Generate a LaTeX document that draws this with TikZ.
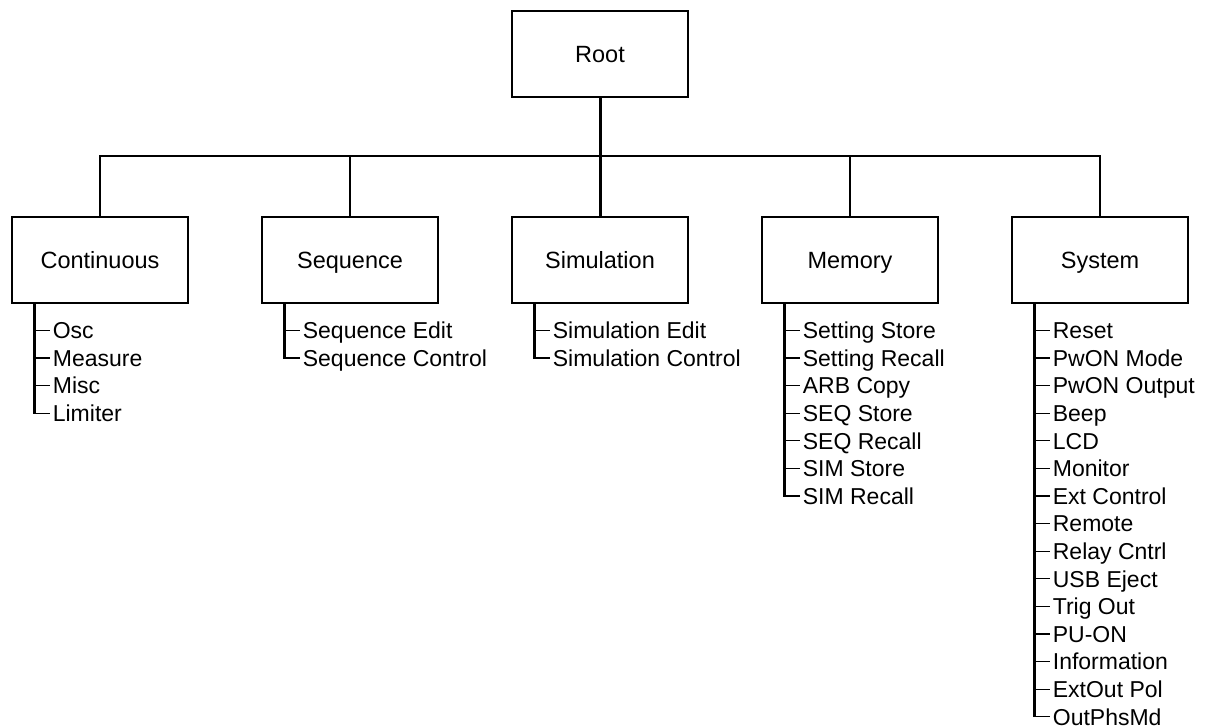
\documentclass[tikz,border=0pt]{standalone}
\usepackage{fontspec}
\setmainfont{Liberation Sans}
\usetikzlibrary{positioning, calc}

\begin{document}
\begin{tikzpicture}[x=1pt, y=-1pt,
  menu/.style={draw, line width=2.7pt, minimum width=176pt, minimum height=86pt,
    inner sep=0pt, text height=17pt, text depth=0pt,
    font=\fontsize{23.5}{28}\selectfont},
  entry/.style={anchor=west, inner xsep=3pt, inner ysep=0pt, text height=16.5pt,
    text depth=0pt, font=\fontsize{23}{27}\selectfont},
  bus/.style={line width=2.2pt},
  trunk/.style={line width=3pt},
  tick/.style={line width=1.2pt},
]
  \useasboundingbox (0,0) rectangle (1205,728);

  % menu boxes
  \node[menu] (root) at (600,54) {Root};
  \node[menu] (cont) at (100,260) {Continuous};
  \node[menu] (seq)  at (350,260) {Sequence};
  \node[menu] (sim)  at (600,260) {Simulation};
  \node[menu] (mem)  at (850,260) {Memory};
  \node[menu] (sys)  at (1100,260) {System};

  % bus from root to the five menus
  \coordinate (bus) at (600,156);
  \draw[bus] (cont.north) |- (bus) -| (sys.north);
  \draw[bus] (seq.north) -- (seq.north |- bus);
  \draw[bus] (mem.north) -- (mem.north |- bus);
  \draw[trunk] (root.south) -- (sim.north);

  % sub-menu entries
  \foreach \grp in {cont, seq, sim, mem, sys}
    \coordinate (\grp-top) at ($(\grp.south west)+(24,0)$);

  \foreach \txt [count=\i] in {Osc, Measure, Misc, Limiter}
    \node[entry] (cont-\i) at ($(cont.south west)+(39,{26+27.6*(\i-1)})$) {\txt};
  \foreach \txt [count=\i] in {Sequence Edit, Sequence Control}
    \node[entry] (seq-\i) at ($(seq.south west)+(39,{26+27.6*(\i-1)})$) {\txt};
  \foreach \txt [count=\i] in {Simulation Edit, Simulation Control}
    \node[entry] (sim-\i) at ($(sim.south west)+(39,{26+27.6*(\i-1)})$) {\txt};
  \foreach \txt [count=\i] in {Setting Store, Setting Recall, ARB Copy, SEQ Store,
      SEQ Recall, SIM Store, SIM Recall}
    \node[entry] (mem-\i) at ($(mem.south west)+(39,{26+27.6*(\i-1)})$) {\txt};
  \foreach \txt [count=\i] in {Reset, PwON Mode, PwON Output, Beep, LCD, Monitor,
      Ext Control, Remote, Relay Cntrl, USB Eject, Trig Out, PU-ON, Information,
      ExtOut Pol, OutPhsMd}
    \node[entry] (sys-\i) at ($(sys.south west)+(39,{26+27.6*(\i-1)})$) {\txt};

  % trunks and ticks
  \foreach \grp/\n in {cont/4, seq/2, sim/2, mem/7, sys/15} {
    \draw[trunk] (\grp-top) -- ([yshift=-0.6pt]\grp-top |- \grp-\n.west);
    \foreach \i in {1,...,\n}
      \draw[tick] (\grp-\i.west) -- (\grp-\i.west -| \grp-top);
  }
\end{tikzpicture}
\end{document}
